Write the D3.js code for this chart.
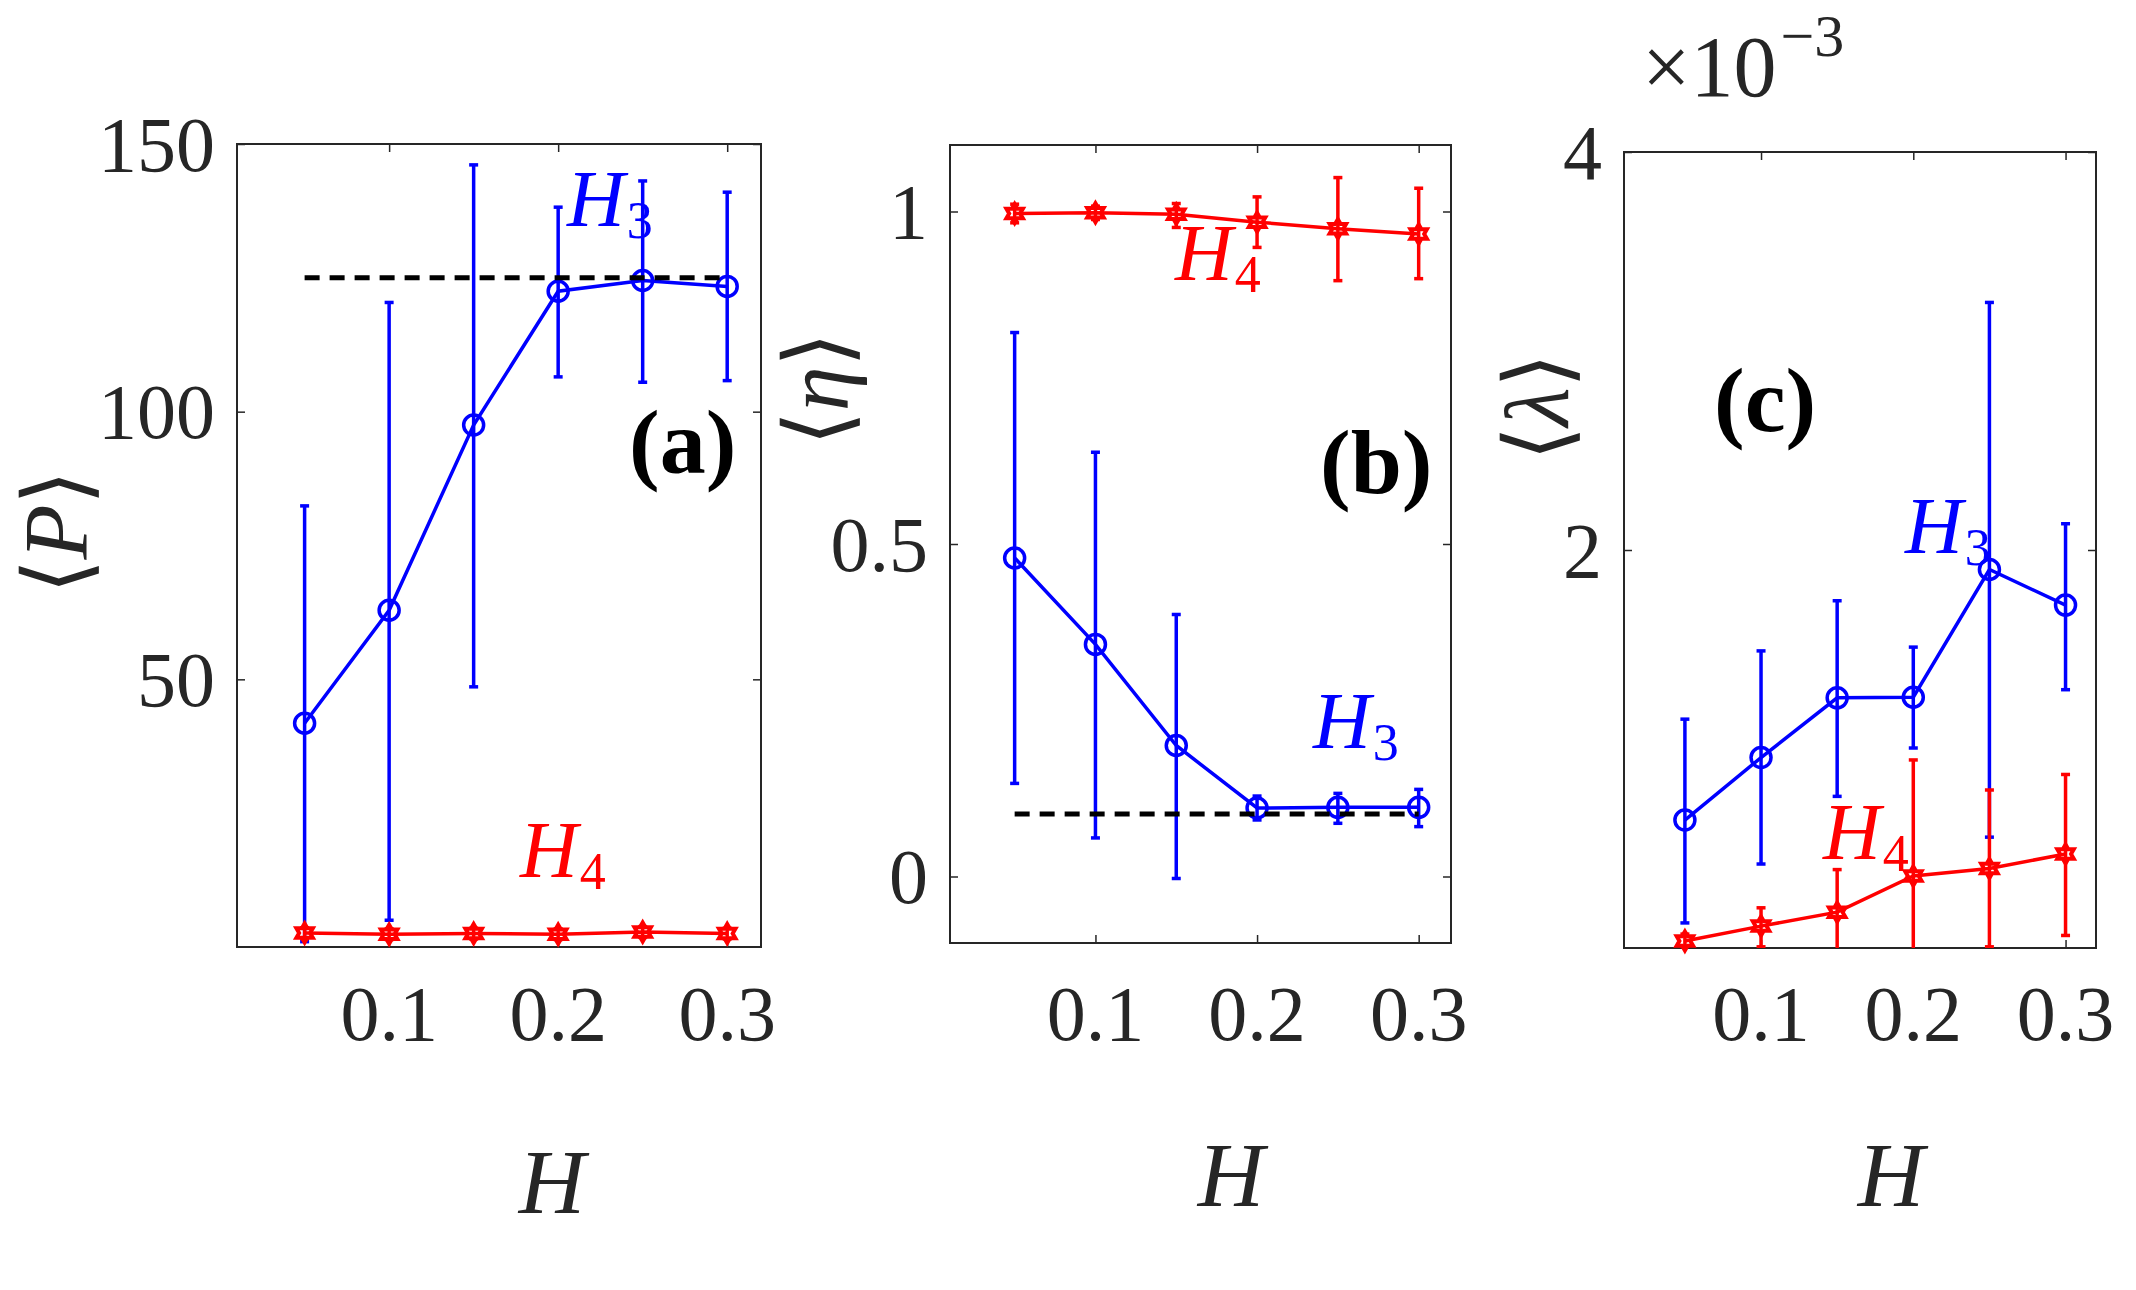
<!DOCTYPE html>
<html>
<head>
<meta charset="utf-8">
<script src="https://cdn.jsdelivr.net/npm/d3@7"></script>
<style>
  body { margin: 0; background: #fff; }
  text { font-family: "Liberation Serif", "Times New Roman", "DejaVu Serif", serif; fill: #262626; }
</style>
</head>
<body>
<svg id="chart" width="2136" height="1290"></svg>
<script>
const svg = d3.select('#chart');

// x values shared by all panels
const hVals = [0.05, 0.1, 0.15, 0.2, 0.25, 0.3];
const xTicks = [0.1, 0.2, 0.3];

// (a) <P>
const pH3   = [41.8, 62.9, 97.5, 122.5, 124.5, 123.4];
const pH3Lo = [1.0, 5.0, 48.6, 106.5, 105.5, 105.8];
const pH3Hi = [82.4, 120.4, 146.1, 138.2, 143.1, 141.0];
const pH4   = [2.6, 2.4, 2.5, 2.4, 2.8, 2.5];
const pH4Lo = [1.6, 1.4, 1.5, 1.4, 1.8, 1.5];
const pH4Hi = [3.6, 3.4, 3.5, 3.4, 3.8, 3.5];
const pRef = 125;
const pTicks = [50, 100, 150];

// (b) <eta>
const etaH3   = [0.479, 0.349, 0.197, 0.103, 0.104, 0.104];
const etaH3Lo = [0.140, 0.058, -0.003, 0.085, 0.080, 0.075];
const etaH3Hi = [0.818, 0.638, 0.394, 0.121, 0.125, 0.131];
const etaH4   = [0.997, 0.998, 0.996, 0.984, 0.974, 0.966];
const etaH4Lo = [0.983, 0.988, 0.976, 0.946, 0.896, 0.899];
const etaH4Hi = [1.011, 1.008, 1.012, 1.022, 1.051, 1.035];
const etaRef = 0.094;
const etaTicks = [0, 0.5, 1];

// (c) <lambda>, in units of 1e-3
const lamH3   = [0.643, 0.957, 1.257, 1.260, 1.902, 1.723];
const lamH3Lo = [0.126, 0.422, 0.762, 1.005, 0.557, 1.298];
const lamH3Hi = [1.150, 1.493, 1.745, 1.512, 3.244, 2.132];
const lamH4   = [0.035, 0.110, 0.180, 0.362, 0.400, 0.472];
const lamH4Lo = [0.000, 0.006, -0.034, -0.221, 0.006, 0.063];
const lamH4Hi = [0.070, 0.202, 0.394, 0.945, 0.794, 0.872];
const lamTicks = [2, 4];

const blue = '#0000ff', red = '#ff0000', ink = '#262626';

const panels = [
  { id: 'a', x0: 237, x1: 761, y0: 144, y1: 947, yDomain: [0, 150], yTicks: pTicks, ref: pRef,
    ylabX: 60, ylabY: 532, ylab: 'P', tag: '(a)', tagX: 629, tagY: 473, xlabX: 552, xlabY: 1213,
    series: [
      { v: pH3, lo: pH3Lo, hi: pH3Hi, color: blue, mark: 'circle', lab: '3', lx: 567, ly: 226 },
      { v: pH4, lo: pH4Lo, hi: pH4Hi, color: red, mark: 'hex', lab: '4', lx: 520, ly: 877 }
    ] },
  { id: 'b', x0: 950, x1: 1451, y0: 145, y1: 943, yDomain: [-0.1, 1.1], yTicks: etaTicks, ref: etaRef,
    ylabX: 821, ylabY: 389, ylab: 'η', tag: '(b)', tagX: 1320, tagY: 493, xlabX: 1231, xlabY: 1206,
    series: [
      { v: etaH3, lo: etaH3Lo, hi: etaH3Hi, color: blue, mark: 'circle', lab: '3', lx: 1313, ly: 748 },
      { v: etaH4, lo: etaH4Lo, hi: etaH4Hi, color: red, mark: 'hex', lab: '4', lx: 1175, ly: 280 }
    ] },
  { id: 'c', x0: 1624, x1: 2096, y0: 152, y1: 948, yDomain: [0, 4], yTicks: lamTicks, ref: null,
    ylabX: 1541, ylabY: 407, ylab: 'λ', tag: '(c)', tagX: 1714, tagY: 431, xlabX: 1891, xlabY: 1206,
    series: [
      { v: lamH3, lo: lamH3Lo, hi: lamH3Hi, color: blue, mark: 'circle', lab: '3', lx: 1905, ly: 553 },
      { v: lamH4, lo: lamH4Lo, hi: lamH4Hi, color: red, mark: 'hex', lab: '4', lx: 1823, ly: 859 }
    ] }
];

// six pointed star marker
function hexagram(R) {
  const pts = d3.range(12).map(i => {
    const a = i * Math.PI / 6 - Math.PI / 2;
    const r = i % 2 ? R / Math.sqrt(3) : R;
    return [r * Math.cos(a), r * Math.sin(a)];
  });
  return d3.line()(pts) + 'Z';
}

panels.forEach(p => {
  const x = d3.scaleLinear().domain([0.01, 0.32]).range([p.x0, p.x1]);
  const y = d3.scaleLinear().domain(p.yDomain).range([p.y1, p.y0]);
  const g = svg.append('g');

  g.append('clipPath').attr('id', 'clip-' + p.id)
    .append('rect')
    .attr('x', p.x0).attr('y', p.y0)
    .attr('width', p.x1 - p.x0).attr('height', p.y1 - p.y0);

  // ticks on all four sides, pointing inward
  const tl = 8;
  const axes = [
    d3.axisBottom(x).tickValues(xTicks).tickSize(-tl).tickFormat(''),
    d3.axisTop(x).tickValues(xTicks).tickSize(-tl).tickFormat(''),
    d3.axisLeft(y).tickValues(p.yTicks).tickSize(-tl).tickFormat(''),
    d3.axisRight(y).tickValues(p.yTicks).tickSize(-tl).tickFormat('')
  ];
  const trans = [
    `translate(0,${p.y1})`, `translate(0,${p.y0})`,
    `translate(${p.x0},0)`, `translate(${p.x1},0)`
  ];
  axes.forEach((ax, i) => {
    const a = g.append('g').attr('transform', trans[i]).call(ax);
    a.select('.domain').remove();
    a.selectAll('line').attr('stroke', ink).attr('stroke-width', 1.5);
  });

  g.append('rect')
    .attr('x', p.x0).attr('y', p.y0)
    .attr('width', p.x1 - p.x0).attr('height', p.y1 - p.y0)
    .attr('fill', 'none').attr('stroke', ink).attr('stroke-width', 2);

  // tick labels
  g.selectAll('.xt').data(xTicks).join('text')
    .attr('x', d => x(d)).attr('y', 1040)
    .attr('text-anchor', 'middle')
    .attr('font-size', 78)
    .text(d => d3.format('.1f')(d));

  g.selectAll('.yt').data(p.yTicks).join('text')
    .attr('x', p.x0 - 22).attr('y', d => y(d))
    .attr('dy', '0.34em')
    .attr('text-anchor', 'end')
    .attr('font-size', 78)
    .text(d => d3.format('~g')(d));

  const clipped = g.append('g').attr('clip-path', `url(#clip-${p.id})`);

  p.series.forEach(s => {
    const pts = hVals.map((h, i) => ({ h, v: s.v[i], lo: s.lo[i], hi: s.hi[i] }));

    // error bars
    clipped.selectAll(null).data(pts).join('line')
      .attr('x1', d => x(d.h)).attr('x2', d => x(d.h))
      .attr('y1', d => y(d.lo)).attr('y2', d => y(d.hi))
      .attr('stroke', s.color).attr('stroke-width', 3.5);
    ['lo', 'hi'].forEach(k => {
      clipped.selectAll(null).data(pts).join('line')
        .attr('x1', d => x(d.h) - 4.5).attr('x2', d => x(d.h) + 4.5)
        .attr('y1', d => y(d[k])).attr('y2', d => y(d[k]))
        .attr('stroke', s.color).attr('stroke-width', 3.5);
    });

    clipped.append('path')
      .attr('d', d3.line().x(d => x(d.h)).y(d => y(d.v))(pts))
      .attr('fill', 'none').attr('stroke', s.color).attr('stroke-width', 3.5);

    if (s.mark === 'circle') {
      g.selectAll(null).data(pts).join('circle')
        .attr('cx', d => x(d.h)).attr('cy', d => y(d.v)).attr('r', 10)
        .attr('fill', 'none').attr('stroke', s.color).attr('stroke-width', 3.5);
    } else {
      g.selectAll(null).data(pts).join('path')
        .attr('transform', d => `translate(${x(d.h)},${y(d.v)})`)
        .attr('d', hexagram(9.5))
        .attr('fill', 'none').attr('stroke', s.color).attr('stroke-width', 4);
    }
  });

  if (p.ref !== null) {
    g.append('line')
      .attr('x1', x(0.05)).attr('x2', x(0.3))
      .attr('y1', y(p.ref)).attr('y2', y(p.ref))
      .attr('stroke', '#000').attr('stroke-width', 5)
      .attr('stroke-dasharray', '15 10');
  }

  // series labels H_3 / H_4
  p.series.forEach(s => {
    const t = g.append('text').attr('x', s.lx).attr('y', s.ly)
      .attr('font-size', 80).style('fill', s.color);
    t.append('tspan').attr('font-style', 'italic').text('H');
    t.append('tspan').attr('font-size', 52).attr('dy', 12).attr('dx', 2).text(s.lab);
  });

  g.append('text').attr('x', p.tagX).attr('y', p.tagY)
    .attr('font-size', 92).attr('font-weight', 'bold')
    .style('fill', '#000')
    .text(p.tag);

  // y label <sym>
  const yl = g.append('text')
    .attr('transform', `translate(${p.ylabX},${p.ylabY}) rotate(-90)`)
    .attr('text-anchor', 'middle').attr('dy', '0.3em')
    .attr('font-size', 90);
  yl.append('tspan').style('font-family', 'DejaVu Sans').attr('font-weight', 200).text('⟨');
  yl.append('tspan').attr('font-style', 'italic').text(p.ylab);
  yl.append('tspan').style('font-family', 'DejaVu Sans').attr('font-weight', 200).text('⟩');

  // x label
  g.append('text').attr('x', p.xlabX).attr('y', p.xlabY)
    .attr('text-anchor', 'middle')
    .attr('font-size', 92).attr('font-style', 'italic')
    .text('H');
});

// exponent for panel (c)
const ex = svg.append('text').attr('x', 1642).attr('y', 96).attr('font-size', 86);
ex.append('tspan').text('×10');
ex.append('tspan').attr('font-size', 60).attr('dy', -40).attr('dx', 4).text('−3');
</script>
</body>
</html>
